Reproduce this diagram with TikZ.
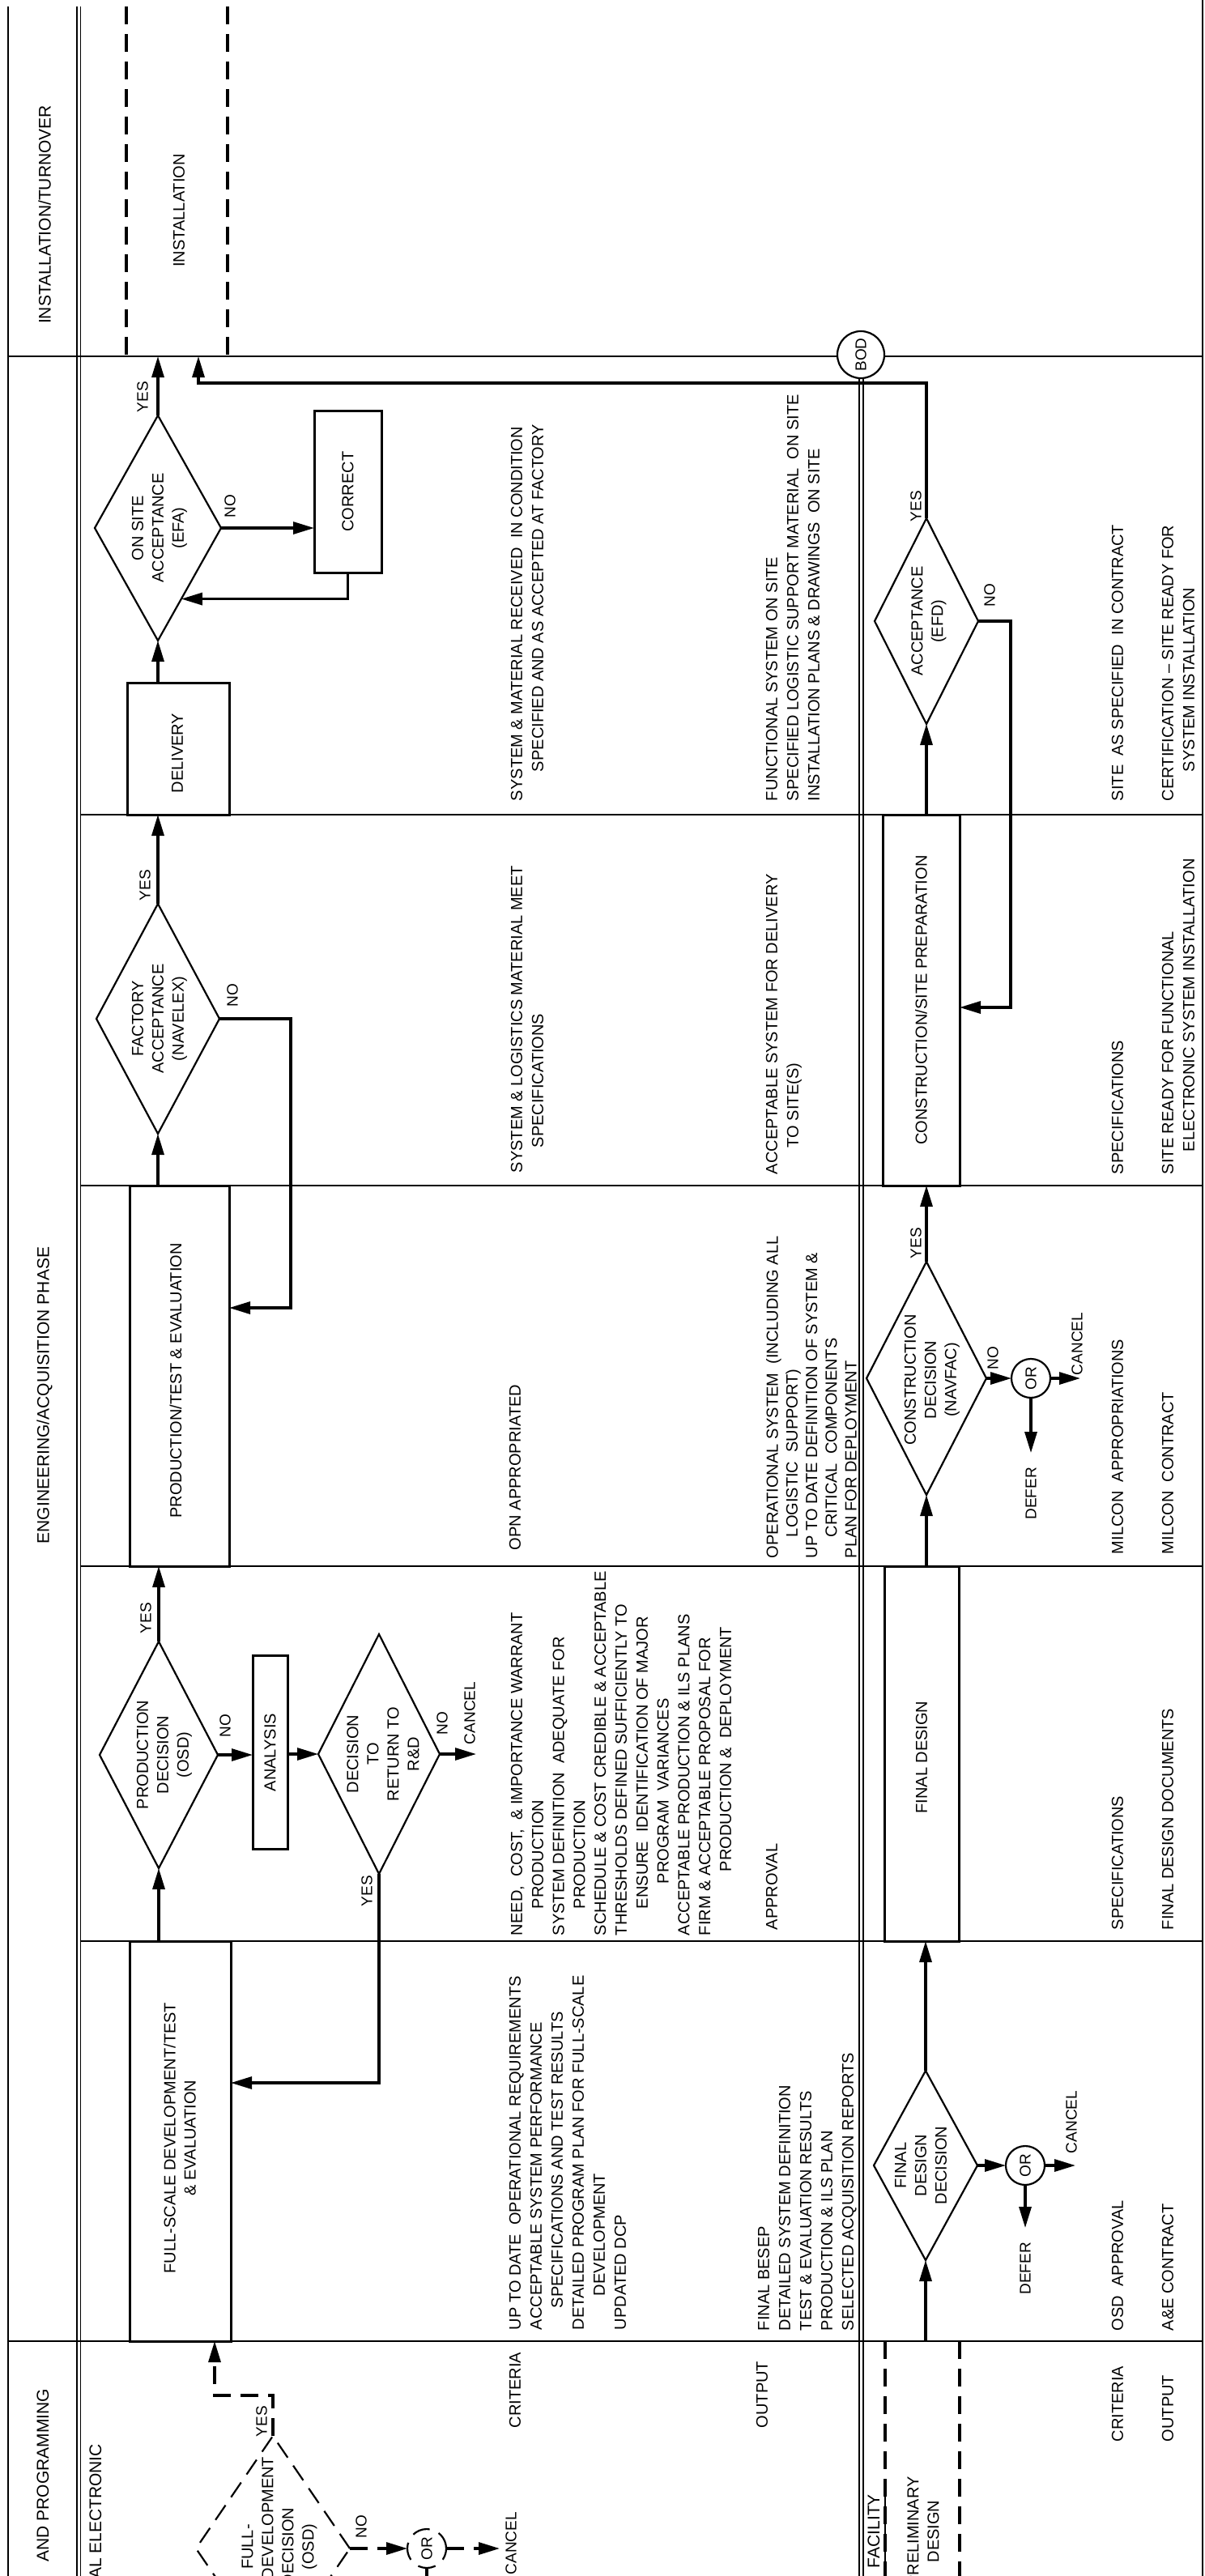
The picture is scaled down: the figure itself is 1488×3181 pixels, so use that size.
\documentclass[tikz,border=0pt]{standalone}
\usepackage{fontspec}
\setmainfont{Liberation Sans}
\usepackage{graphicx}
\usetikzlibrary{arrows.meta,shapes.geometric,calc}
\begin{document}
\begin{tikzpicture}[x=1pt,y=-1pt,
  every node/.style={inner sep=0pt,outer sep=0pt},
  txt/.style={rotate=90,font=\fontsize{20}{26}\selectfont,align=left,anchor=north west},
  one/.style={rotate=90,font=\fontsize{20}{26}\selectfont,anchor=west},
  ctr/.style={rotate=90,font=\fontsize{20}{25}\selectfont,align=center},
  hdr/.style={rotate=90,font=\fontsize{21}{26}\selectfont},
  lbl/.style={rotate=90,font=\fontsize{19}{22}\selectfont},
  grid/.style={line width=2pt},
  flow/.style={line width=3.2pt},
  arr/.style={flow,-{Triangle[length=26pt,width=15pt]}},
  dia/.style={draw,diamond,line width=2.2pt},
  box/.style={draw,rectangle,line width=3pt},
  dsh/.style={dash pattern=on 22pt off 12pt},
  orc/.style={draw,circle,line width=2.2pt,minimum size=48pt,fill=white,font=\fontsize{19}{22}\selectfont},
]
\useasboundingbox (0,0) rectangle (1488,3181);
\fill[white] (0,0) rectangle (1488,3181);
\begin{scope}
\clip (0,0) rectangle (1488,3181);

% column line coordinates
\coordinate (yA) at (0,440);
\coordinate (yB) at (0,1006);
\coordinate (yC) at (0,1464);
\coordinate (yD) at (0,1934);
\coordinate (yE) at (0,2397);
\coordinate (yF) at (0,2891);

% frame and grid
\draw[line width=1.5pt,double,double distance=3pt] (97,8) -- (97,3181);
\draw[line width=2pt,double,double distance=3pt] (1063,465) -- (1063,3181);
\draw[grid] (10,8) -- (10,3181);
\draw[grid] (1485,0) -- (1485,3181);
\draw[grid] (10,440) -- (1485,440);
\draw[grid] (10,2891) -- (1485,2891);
\foreach \yy in {1006,1464,1934,2397} \draw[grid] (99,\yy) -- (1485,\yy);

% dashed box sides
\draw[flow,dsh] (156,8) -- (156,440);
\draw[flow,dsh] (281,8) -- (281,440);
\draw[flow,dsh] (1093,2891) -- (1093,3181);
\draw[flow,dsh] (1185,2891) -- (1185,3181);
\draw[line width=2.5pt] (1093,3080) -- (1093,3181);

% header
\node[hdr] (hInst) at (55,265) {INSTALLATION/TURNOVER};
\node[hdr] (hEng) at (55,1723) {ENGINEERING/ACQUISITION PHASE};
\node[hdr,anchor=east] (hPlan) at (53,2950) {AND PROGRAMMING};
\node[hdr,anchor=east] (rEl) at (118,3018) {AL ELECTRONIC};
\node[hdr,anchor=east] (rFac) at (1079,3080) {FACILITY};
\node[ctr] (rPre) at (1140,3126) {PRELIMINARY\\DESIGN};
\node[ctr] (inst) at (221,260) {INSTALLATION};

\node[orc,minimum size=58pt] (bod) at (1063,438) {\rotatebox{90}{BOD}};

% ---------- electronic flow ----------
\node[dia,minimum width=156pt,minimum height=278pt] (dOS) at (195,652) {};
\node[ctr] (tOS) at (197,652) {ON SITE\\ACCEPTANCE\\(EFA)};
\node[box,minimum width=83pt,minimum height=200pt] (corr) at (429.5,607) {};
\node[ctr] (tcorr) at (corr) {CORRECT};
\node[box,minimum width=126pt,minimum height=163pt] (deliv) at (220,924.5) {};
\node[ctr] (tdeliv) at (219,930) {DELIVERY};

\node[dia,minimum width=152pt,minimum height=284pt] (dFA) at (195,1258) {};
\node[ctr] (tFA) at (197,1258) {FACTORY\\ACCEPTANCE\\(NAVELEX)};
\node[box,minimum width=123pt,minimum height=470pt] (prod) at (221.5,1699) {};
\node[ctr] (tprod) at (217,1705) {PRODUCTION/TEST \& EVALUATION};

\node[dia,minimum width=146pt,minimum height=280pt] (dPD) at (196,2167) {};
\node[ctr] (tPD) at (203,2167) {PRODUCTION\\DECISION\\(OSD)};
\node[box,minimum width=43pt,minimum height=239pt] (ana) at (333.5,2164) {};
\node[ctr] (tana) at (ana) {ANALYSIS};
\node[dia,minimum width=150pt,minimum height=296pt] (dRT) at (468,2166) {};
\node[ctr] (tRT) at (473,2166) {DECISION\\TO\\RETURN TO\\R\&D};

\node[box,minimum width=125pt,minimum height=494pt] (fs) at (222.5,2644) {};
\node[ctr] (tfs) at (222,2640) {FULL-SCALE DEVELOPMENT/TEST\\\& EVALUATION};

\node[dia,dsh,minimum width=190pt,minimum height=278pt] (dFD) at (337,3147) {};
\node[ctr] (tFD) at (345,3145) {FULL-\\\hspace*{71pt}DEVELOPMENT\\DECISION\\(OSD)};
\node[orc,dsh] (or1) at (527,3147) {\rotatebox{90}{OR}};

% ---------- facility flow ----------
\node[dia,minimum width=128pt,minimum height=254pt] (dEFD) at (1144,767) {};
\node[ctr] (tEFD) at (1147,767) {ACCEPTANCE\\(EFD)};
\node[box,minimum width=95pt,minimum height=458pt] (csp) at (1137.5,1235) {};
\node[ctr] (tcsp) at (csp) {CONSTRUCTION/SITE PREPARATION};
\node[dia,minimum width=148pt,minimum height=288pt] (dCD) at (1144,1702) {};
\node[ctr] (tCD) at (1151,1704) {CONSTRUCTION\\DECISION\\(NAVFAC)};
\node[orc] (or2) at (1273,1702) {\rotatebox{90}{OR}};
\node[box,minimum width=92pt,minimum height=463pt] (fd) at (1138,2165.5) {};
\node[ctr] (tfd) at (1138,2170) {FINAL DESIGN};
\node[dia,minimum width=128pt,minimum height=234pt] (dFDD) at (1143,2674) {};
\node[ctr] (tFDD) at (1137,2674) {FINAL\\DESIGN\\DECISION};
\node[orc] (or3) at (1266,2674) {\rotatebox{90}{OR}};

% ---------- labels ----------
\node[lbl] (y1) at (176,490) {YES};
\node[lbl] (n1) at (284,625) {NO};
\node[lbl] (y2) at (179,1093) {YES};
\node[lbl] (n2) at (287,1229) {NO};
\node[lbl] (y3) at (180,1998) {YES};
\node[lbl] (n3) at (278,2131) {NO};
\node[lbl] (n4) at (546,2128) {NO};
\node[lbl] (y4) at (453,2335) {YES};
\node[lbl] (y5) at (323,2990) {YES};
\node[lbl] (n5) at (446,3120) {NO};
\node[lbl] (y6) at (1131,625) {YES};
\node[lbl] (n6) at (1222,735) {NO};
\node[lbl] (y7) at (1131,1535) {YES};
\node[lbl] (n7) at (1226,1677) {NO};
\node[lbl,anchor=west] (c1) at (580,2154) {CANCEL};
\node[lbl,anchor=east] (c3) at (631,3102) {CANCEL};
\node[lbl,anchor=west] (c2) at (1330,1698) {CANCEL};
\node[lbl,anchor=east] (d2) at (1273,1812) {DEFER};
\node[lbl,anchor=west] (c4) at (1323,2659) {CANCEL};
\node[lbl,anchor=east] (d4) at (1266,2769) {DEFER};

% ---------- connectors ----------
\draw[arr] (dOS.north) -- (dOS.north |- yA);
\draw[arr] (dOS.east) -- (corr.west |- dOS.east);
\coordinate (osin) at ($(dOS.east)!0.63!(dOS.south)$);
\draw[arr] (corr.south) |- (osin);
\coordinate (yes473) at (245,473);
\draw[arr] (dEFD.north) |- (yes473) -- (yes473 |- yA);
\draw[arr] (deliv.north -| dOS.south) -- (dOS.south);
\draw[arr] (dFA.north) -- (dFA.north |- deliv.south);
\coordinate (nFA) at (359,1615);
\draw[arr] (dFA.east) -| (nFA) -- (nFA -| prod.east);
\draw[arr] (prod.north -| dFA.south) -- (dFA.south);
\draw[arr] (dPD.north) -- (dPD.north |- prod.south);
\draw[arr] (fs.north -| dPD.south) -- (dPD.south);
\draw[arr] (dPD.east) -- (dPD.east -| ana.west);
\draw[arr] (dRT.west -| ana.east) -- (dRT.west);
\coordinate (cRT) at (588,2166);
\draw[arr] (dRT.east) -- (cRT);
\coordinate (rtb) at (468,2572);
\draw[arr] (dRT.south) -- (rtb) -- (rtb -| fs.east);
\coordinate (fdc) at (265,2958);
\draw[arr,dsh] (dFD.north) |- (fdc) -- (fdc |- yF);
\draw[arr,dsh] (dFD.east) -- (or1.west);
\coordinate (cFD) at (617,3147);
\draw[arr,dsh] (or1.east) -- (cFD);
\coordinate (dFDb) at (527,3200);
\draw[flow,dsh] (or1.south) -- (dFDb);

\draw[arr] (csp.north -| dEFD.south) -- (dEFD.south);
\coordinate (nEFD) at (1248,1244);
\draw[arr] (dEFD.east) -| (nEFD) -- (nEFD -| csp.east);
\draw[arr] (dCD.north) -- (dCD.north |- csp.south);
\draw[arr] (fd.north -| dCD.south) -- (dCD.south);
\draw[arr] (dCD.east) -- (or2.west);
\coordinate (cCD) at (1334,1702);
\draw[arr] (or2.east) -- (cCD);
\coordinate (dCDd) at (1273,1794);
\draw[arr] (or2.south) -- (dCDd);
\draw[arr] (dFDD.north) -- (dFDD.north |- fd.south);
\draw[arr] (yF -| dFDD.south) -- (dFDD.south);
\draw[arr] (dFDD.east) -- (or3.west);
\coordinate (cFDD) at (1328,2674);
\draw[arr] (or3.east) -- (cFDD);
\coordinate (dFDDd) at (1266,2751);
\draw[arr] (or3.south) -- (dFDDd);

% ---------- criteria / output texts ----------
\node[txt] (crB) at (631,989) {SYSTEM \& MATERIAL RECEIVED\ \ IN CONDITION\\\hspace*{36pt}SPECIFIED AND AS ACCEPTED AT FACTORY};
\node[txt] (ouB) at (946,989) {FUNCTIONAL SYSTEM ON SITE\\SPECIFIED LOGISTIC SUPPORT MATERIAL\ \ ON SITE\\INSTALLATION PLANS \& DRAWINGS\ \ ON SITE};
\node[txt] (fcB) at (1373,989) {SITE\ \ AS SPECIFIED\ \ IN CONTRACT};
\node[txt] (foB) at (1435,989) {CERTIFICATION \textendash\ SITE READY FOR\\\hspace*{36pt}SYSTEM INSTALLATION};

\node[txt] (crC) at (631,1448) {SYSTEM \& LOGISTICS MATERIAL MEET\\\hspace*{31pt}SPECIFICATIONS};
\node[txt] (ouC) at (946,1450) {ACCEPTABLE SYSTEM FOR DELIVERY\\\hspace*{33pt}TO SITE(S)};
\node[txt] (fcC) at (1373,1450) {SPECIFICATIONS};
\node[txt] (foC) at (1435,1450) {SITE READY FOR FUNCTIONAL\\\hspace*{28pt}ELECTRONIC SYSTEM INSTALLATION};

\node[txt] (crD) at (629,1914) {OPN APPROPRIATED};
\node[txt,font=\fontsize{20}{24.3}\selectfont] (ouD) at (946,1924) {OPERATIONAL SYSTEM\ \ (INCLUDING ALL\\\hspace*{26pt}LOGISTIC\ \ SUPPORT)\\UP TO DATE DEFINITION OF SYSTEM \&\\\hspace*{26pt}CRITICAL\ \ COMPONENTS\\PLAN FOR DEPLOYMENT};
\node[txt] (fcD) at (1373,1919) {MILCON\ \ APPROPRIATIONS};
\node[txt] (foD) at (1435,1919) {MILCON\ \ CONTRACT};

\node[txt,font=\fontsize{20}{25.8}\selectfont] (crE) at (631,2390) {NEED,\ \ COST,\ \ \& IMPORTANCE WARRANT\\\hspace*{33pt}PRODUCTION\\SYSTEM DEFINITION\ \ ADEQUATE FOR\\\hspace*{33pt}PRODUCTION\\SCHEDULE \& COST CREDIBLE \& ACCEPTABLE\\THRESHOLDS DEFINED SUFFICIENTLY TO\\\hspace*{33pt}ENSURE\ \ IDENTIFICATION OF MAJOR\\\hspace*{64pt}PROGRAM\ \ VARIANCES\\ACCEPTABLE PRODUCTION \& ILS PLANS\\FIRM \& ACCEPTABLE PROPOSAL FOR\\\hspace*{79pt}PRODUCTION \&\ \ DEPLOYMENT};
\node[txt] (ouE) at (946,2383) {APPROVAL};
\node[txt] (fcE) at (1373,2383) {SPECIFICATIONS};
\node[txt] (foE) at (1435,2383) {FINAL DESIGN DOCUMENTS};

\node[txt] (crF) at (629,2877) {UP TO DATE\ \ OPERATIONAL REQUIREMENTS\\ACCEPTABLE SYSTEM PERFORMANCE\\\hspace*{27pt}SPECIFICATIONS AND TEST RESULTS\\DETAILED PROGRAM PLAN FOR FULL-SCALE\\\hspace*{42pt}DEVELOPMENT\\UPDATED DCP};
\node[txt] (ouF) at (936,2878) {FINAL BESEP\\DETAILED SYSTEM DEFINITION\\TEST \& EVALUATION RESULTS\\PRODUCTION \& ILS PLAN\\SELECTED ACQUISITION REPORTS};
\node[txt] (fcF) at (1373,2878) {OSD\ \ APPROVAL};
\node[txt] (foF) at (1435,2878) {A\&E CONTRACT};

\node[one] (crG) at (636,2998) {CRITERIA};
\node[one] (ouG) at (941,2998) {OUTPUT};
\node[one] (fcG) at (1380,3015) {CRITERIA};
\node[one] (foG) at (1442,3015) {OUTPUT};
\end{scope}
\end{tikzpicture}
\end{document}
